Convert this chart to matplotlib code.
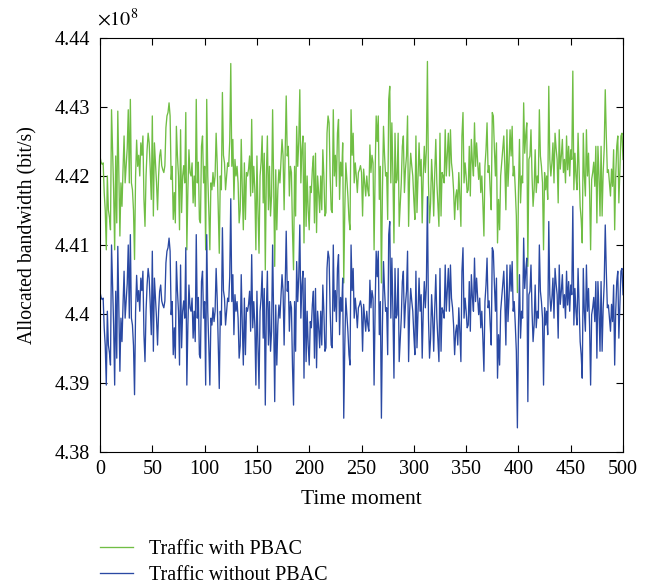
import matplotlib
matplotlib.use("Agg")
import matplotlib.pyplot as plt
from matplotlib.ticker import FormatStrFormatter, MultipleLocator
import numpy as np

# allocated bandwidth, in units of 1e8 bit/s, one value per time moment (0..500)
with_pbac = [
    4.4228, 4.4220, 4.4217, 4.4219, 4.4176, 4.4150, 4.4093, 4.4200, 4.4151, 4.4140,
    4.4122, 4.4296, 4.4238, 4.4180, 4.4093, 4.4229, 4.4132, 4.4294, 4.4205, 4.4113,
    4.4190, 4.4156, 4.4210, 4.4258, 4.4190, 4.4214, 4.4240, 4.4296, 4.4190, 4.4311,
    4.4190, 4.4180, 4.4150, 4.4079, 4.4200, 4.4252, 4.4214, 4.4230, 4.4200, 4.4248,
    4.4230, 4.4258, 4.4166, 4.4127, 4.4200, 4.4238, 4.4262, 4.4248, 4.4210, 4.4166,
    4.4287, 4.4142, 4.4248, 4.4220, 4.4190, 4.4151, 4.4200, 4.4229, 4.4238, 4.4215,
    4.4209, 4.4205, 4.4215, 4.4270, 4.4287, 4.4292, 4.4306, 4.4287, 4.4195, 4.4214,
    4.4137, 4.4176, 4.4132, 4.4272, 4.4230, 4.4200, 4.4122, 4.4267, 4.4147, 4.4200,
    4.4215, 4.4190, 4.4292, 4.4093, 4.4180, 4.4238, 4.4205, 4.4200, 4.4219, 4.4161,
    4.4200, 4.4156, 4.4311, 4.4190, 4.4220, 4.4137, 4.4132, 4.4243, 4.4258, 4.4190,
    4.4214, 4.4093, 4.4311, 4.4200, 4.4150, 4.4093, 4.4190, 4.4180, 4.4205, 4.4185,
    4.4200, 4.4262, 4.4219, 4.4150, 4.4088, 4.4200, 4.4180, 4.4321, 4.4230, 4.4219,
    4.4180, 4.4200, 4.4219, 4.4214, 4.4250, 4.4363, 4.4214, 4.4253, 4.4166, 4.4224,
    4.4200, 4.4214, 4.4190, 4.4132, 4.4150, 4.4253, 4.4180, 4.4122, 4.4219, 4.4137,
    4.4205, 4.4200, 4.4210, 4.4229, 4.4171, 4.4282, 4.4176, 4.4214, 4.4180, 4.4093,
    4.4229, 4.4150, 4.4088, 4.4200, 4.4220, 4.4258, 4.4161, 4.4233, 4.4064, 4.4200,
    4.4258, 4.4151, 4.4214, 4.4142, 4.4171, 4.4296, 4.4190, 4.4069, 4.4209, 4.4122,
    4.4180, 4.4209, 4.4190, 4.4220, 4.4253, 4.4229, 4.4151, 4.4230, 4.4316, 4.4229,
    4.4243, 4.4171, 4.4214, 4.4205, 4.4120, 4.4064, 4.4214, 4.4142, 4.4272, 4.4214,
    4.4250, 4.4325, 4.4190, 4.4238, 4.4258, 4.4103, 4.4248, 4.4127, 4.4200, 4.4151,
    4.4122, 4.4185, 4.4176, 4.4210, 4.4229, 4.4132, 4.4233, 4.4118, 4.4200, 4.4176,
    4.4147, 4.4200, 4.4151, 4.4238, 4.4200, 4.4142, 4.4147, 4.4262, 4.4287, 4.4277,
    4.4200, 4.4151, 4.4147, 4.4296, 4.4200, 4.4230, 4.4185, 4.4262, 4.4282, 4.4166,
    4.4220, 4.4200, 4.4248, 4.4045, 4.4151, 4.4219, 4.4195, 4.4170, 4.4137, 4.4122,
    4.4296, 4.4230, 4.4262, 4.4190, 4.4219, 4.4200, 4.4176, 4.4205, 4.4209, 4.4215,
    4.4205, 4.4142, 4.4210, 4.4190, 4.4171, 4.4200, 4.4180, 4.4171, 4.4245, 4.4205,
    4.4230, 4.4219, 4.4093, 4.4205, 4.4287, 4.4250, 4.4287, 4.4166, 4.4214, 4.4045,
    4.4180, 4.4272, 4.4230, 4.4200, 4.4205, 4.4137, 4.4311, 4.4330, 4.4190, 4.4277,
    4.4200, 4.4103, 4.4262, 4.4190, 4.4195, 4.4262, 4.4127, 4.4160, 4.4190, 4.4243,
    4.4258, 4.4176, 4.4210, 4.4229, 4.4287, 4.4127, 4.4200, 4.4233, 4.4215, 4.4200,
    4.4166, 4.4137, 4.4258, 4.4147, 4.4200, 4.4248, 4.4200, 4.4224, 4.4132, 4.4200,
    4.4243, 4.4205, 4.4238, 4.4366, 4.4190, 4.4132, 4.4160, 4.4224, 4.4190, 4.4142,
    4.4205, 4.4253, 4.4190, 4.4160, 4.4127, 4.4262, 4.4142, 4.4205, 4.4200, 4.4190,
    4.4267, 4.4200, 4.4230, 4.4262, 4.4200, 4.4267, 4.4219, 4.4205, 4.4180, 4.4137,
    4.4170, 4.4180, 4.4151, 4.4205, 4.4170, 4.4127, 4.4258, 4.4292, 4.4190, 4.4219,
    4.4200, 4.4176, 4.4180, 4.4243, 4.4171, 4.4253, 4.4220, 4.4200, 4.4277, 4.4214,
    4.4248, 4.4220, 4.4195, 4.4219, 4.4176, 4.4200, 4.4160, 4.4113, 4.4214, 4.4238,
    4.4277, 4.4205, 4.4215, 4.4180, 4.4151, 4.4292, 4.4287, 4.4240, 4.4200, 4.4248,
    4.4103, 4.4166, 4.4122, 4.4200, 4.4219, 4.4238, 4.4258, 4.4214, 4.4151, 4.4267,
    4.4185, 4.4220, 4.4267, 4.4229, 4.4272, 4.4200, 4.4214, 4.4180, 4.4142, 4.4031,
    4.4176, 4.4253, 4.4161, 4.4200, 4.4190, 4.4306, 4.4233, 4.4260, 4.4277, 4.4069,
    4.4224, 4.4229, 4.4267, 4.4200, 4.4156, 4.4180, 4.4238, 4.4176, 4.4200, 4.4190,
    4.4296, 4.4229, 4.4214, 4.4190, 4.4093, 4.4205, 4.4180, 4.4200, 4.4166, 4.4330,
    4.4224, 4.4200, 4.4219, 4.4248, 4.4190, 4.4262, 4.4240, 4.4224, 4.4161, 4.4267,
    4.4210, 4.4229, 4.4253, 4.4205, 4.4224, 4.4190, 4.4258, 4.4209, 4.4243, 4.4200,
    4.4238, 4.4224, 4.4352, 4.4180, 4.4233, 4.4200, 4.4180, 4.4262, 4.4210, 4.4156,
    4.4137, 4.4103, 4.4262, 4.4200, 4.4171, 4.4267, 4.4200, 4.4233, 4.4180, 4.4093,
    4.4195, 4.4205, 4.4220, 4.4185, 4.4243, 4.4132, 4.4243, 4.4200, 4.4142, 4.4243,
    4.4142, 4.4205, 4.4240, 4.4325, 4.4258, 4.4205, 4.4209, 4.4190, 4.4171, 4.4210,
    4.4185, 4.4238, 4.4122, 4.4200, 4.4243, 4.4258, 4.4161, 4.4210, 4.4258, 4.4262,
    4.4224,
]

without_pbac = [
    4.4032, 4.4024, 4.4021, 4.4023, 4.3980, 4.3954, 4.3897, 4.4004, 4.3955, 4.3944,
    4.3926, 4.4100, 4.4042, 4.3984, 4.3897, 4.4033, 4.3936, 4.4098, 4.4009, 4.3917,
    4.3994, 4.3960, 4.4014, 4.4062, 4.3994, 4.4018, 4.4044, 4.4100, 4.3994, 4.4115,
    4.3994, 4.3984, 4.3954, 4.3883, 4.4004, 4.4056, 4.4018, 4.4034, 4.4004, 4.4052,
    4.4034, 4.4062, 4.3970, 4.3931, 4.4004, 4.4042, 4.4066, 4.4052, 4.4014, 4.3970,
    4.4091, 4.3946, 4.4052, 4.4024, 4.3994, 4.3955, 4.4004, 4.4033, 4.4042, 4.4019,
    4.4013, 4.4009, 4.4019, 4.4074, 4.4091, 4.4096, 4.4110, 4.4091, 4.3999, 4.4018,
    4.3941, 4.3980, 4.3936, 4.4076, 4.4034, 4.4004, 4.3926, 4.4071, 4.3951, 4.4004,
    4.4019, 4.3994, 4.4096, 4.3897, 4.3984, 4.4042, 4.4009, 4.4004, 4.4023, 4.3965,
    4.4004, 4.3960, 4.4115, 4.3994, 4.4024, 4.3941, 4.3936, 4.4047, 4.4062, 4.3994,
    4.4018, 4.3897, 4.4115, 4.4004, 4.3954, 4.3897, 4.3994, 4.3984, 4.4009, 4.3989,
    4.4004, 4.4066, 4.4023, 4.3954, 4.3892, 4.4004, 4.3984, 4.4125, 4.4034, 4.4023,
    4.3984, 4.4004, 4.4023, 4.4018, 4.4054, 4.4167, 4.4018, 4.4057, 4.3970, 4.4028,
    4.4004, 4.4018, 4.3994, 4.3936, 4.3954, 4.4057, 4.3984, 4.3926, 4.4023, 4.3941,
    4.4009, 4.4004, 4.4014, 4.4033, 4.3975, 4.4086, 4.3980, 4.4018, 4.3984, 4.3897,
    4.4033, 4.3954, 4.3892, 4.4004, 4.4024, 4.4062, 4.3965, 4.4037, 4.3868, 4.4004,
    4.4062, 4.3955, 4.4018, 4.3946, 4.3975, 4.4100, 4.3994, 4.3873, 4.4013, 4.3926,
    4.3984, 4.4013, 4.3994, 4.4024, 4.4057, 4.4033, 4.3955, 4.4034, 4.4120, 4.4033,
    4.4047, 4.3975, 4.4018, 4.4009, 4.3924, 4.3868, 4.4018, 4.3946, 4.4076, 4.4018,
    4.4054, 4.4129, 4.3994, 4.4042, 4.4062, 4.3907, 4.4052, 4.3931, 4.4004, 4.3955,
    4.3926, 4.3989, 4.3980, 4.4014, 4.4033, 4.3936, 4.4037, 4.3922, 4.4004, 4.3980,
    4.3951, 4.4004, 4.3955, 4.4042, 4.4004, 4.3946, 4.3951, 4.4066, 4.4091, 4.4081,
    4.4004, 4.3955, 4.3951, 4.4100, 4.4004, 4.4034, 4.3989, 4.4066, 4.4086, 4.3970,
    4.4024, 4.4004, 4.4052, 4.3849, 4.3955, 4.4023, 4.3999, 4.3974, 4.3941, 4.3926,
    4.4100, 4.4034, 4.4066, 4.3994, 4.4023, 4.4004, 4.3980, 4.4009, 4.4013, 4.4019,
    4.4009, 4.3946, 4.4014, 4.3994, 4.3975, 4.4004, 4.3984, 4.3975, 4.4049, 4.4009,
    4.4034, 4.4023, 4.3897, 4.4009, 4.4091, 4.4054, 4.4091, 4.3970, 4.4018, 4.3849,
    4.3984, 4.4076, 4.4034, 4.4004, 4.4009, 4.3941, 4.4115, 4.4134, 4.3994, 4.4081,
    4.4004, 4.3907, 4.4066, 4.3994, 4.3999, 4.4066, 4.3931, 4.3964, 4.3994, 4.4047,
    4.4062, 4.3980, 4.4014, 4.4033, 4.4091, 4.3931, 4.4004, 4.4037, 4.4019, 4.4004,
    4.3970, 4.3941, 4.4062, 4.3951, 4.4004, 4.4052, 4.4004, 4.4028, 4.3936, 4.4004,
    4.4047, 4.4009, 4.4042, 4.4170, 4.3994, 4.3936, 4.3964, 4.4028, 4.3994, 4.3946,
    4.4009, 4.4057, 4.3994, 4.3964, 4.3931, 4.4066, 4.3946, 4.4009, 4.4004, 4.3994,
    4.4071, 4.4004, 4.4034, 4.4066, 4.4004, 4.4071, 4.4023, 4.4009, 4.3984, 4.3941,
    4.3974, 4.3984, 4.3955, 4.4009, 4.3974, 4.3931, 4.4062, 4.4096, 4.3994, 4.4023,
    4.4004, 4.3980, 4.3984, 4.4047, 4.3975, 4.4057, 4.4024, 4.4004, 4.4081, 4.4018,
    4.4052, 4.4024, 4.3999, 4.4023, 4.3980, 4.4004, 4.3964, 4.3917, 4.4018, 4.4042,
    4.4081, 4.4009, 4.4019, 4.3984, 4.3955, 4.4096, 4.4091, 4.4044, 4.4004, 4.4052,
    4.3907, 4.3970, 4.3926, 4.4004, 4.4023, 4.4042, 4.4062, 4.4018, 4.3955, 4.4071,
    4.3989, 4.4024, 4.4071, 4.4033, 4.4076, 4.4004, 4.4018, 4.3984, 4.3946, 4.3835,
    4.3980, 4.4057, 4.3965, 4.4004, 4.3994, 4.4110, 4.4037, 4.4064, 4.4081, 4.3873,
    4.4028, 4.4033, 4.4071, 4.4004, 4.3960, 4.3984, 4.4042, 4.3980, 4.4004, 4.3994,
    4.4100, 4.4033, 4.4018, 4.3994, 4.3897, 4.4009, 4.3984, 4.4004, 4.3970, 4.4134,
    4.4028, 4.4004, 4.4023, 4.4052, 4.3994, 4.4066, 4.4044, 4.4028, 4.3965, 4.4071,
    4.4014, 4.4033, 4.4057, 4.4009, 4.4028, 4.3994, 4.4062, 4.4013, 4.4047, 4.4004,
    4.4042, 4.4028, 4.4156, 4.3984, 4.4037, 4.4004, 4.3984, 4.4066, 4.4014, 4.3960,
    4.3941, 4.3907, 4.4066, 4.4004, 4.3975, 4.4071, 4.4004, 4.4037, 4.3984, 4.3897,
    4.3999, 4.4009, 4.4024, 4.3989, 4.4047, 4.3936, 4.4047, 4.4004, 4.3946, 4.4047,
    4.3946, 4.4009, 4.4044, 4.4129, 4.4062, 4.4009, 4.4013, 4.3994, 4.3975, 4.4014,
    4.3989, 4.4042, 4.3926, 4.4004, 4.4047, 4.4062, 4.3965, 4.4014, 4.4062, 4.4066,
    4.4028,
]

time_moment = np.arange(len(with_pbac))

plt.rcParams["font.family"] = ["Liberation Serif", "DejaVu Serif"]
plt.rcParams["mathtext.fontset"] = "stix"
plt.rcParams["font.size"] = 14.5

fig = plt.figure(figsize=(6.55, 5.88), dpi=100)
ax = fig.add_axes([0.1527, 0.2313, 0.7985, 0.7041])

l1, = ax.plot(time_moment, with_pbac, color="#70be44", lw=0.95, label="Traffic with PBAC")
l2, = ax.plot(time_moment, without_pbac, color="#2a49a3", lw=0.95, label="Traffic without PBAC")

ax.set_xlim(0, 500)
ax.set_ylim(4.38, 4.44)
ax.xaxis.set_major_locator(MultipleLocator(50))
ax.yaxis.set_major_locator(MultipleLocator(0.01))
ax.yaxis.set_major_formatter(FormatStrFormatter("%g"))
ax.tick_params(direction="in", top=True, right=True, length=5, width=0.8)
ax.tick_params(axis="y", pad=7)
ax.tick_params(axis="x", pad=6)
for s in ax.spines.values():
    s.set_linewidth(0.8)

ax.set_xlabel("Time moment", fontsize=15.5, labelpad=8)
ax.set_ylabel("Allocated bandwidth (bit/s)", fontsize=14.2)
ax.yaxis.set_label_coords(-0.12, 0.524)

fig.text(97 / 655, 1 - 26 / 588, r"$\times10^{8}$", ha="left", va="baseline")

fig.legend(handles=[l1, l2], loc="upper left", bbox_to_anchor=(100 / 655, 1 - 540 / 588),
           frameon=False, handlelength=1.65, handletextpad=0.8, labelspacing=0.35,
           borderpad=0, borderaxespad=0)

fig.savefig("out.png", dpi=100)
